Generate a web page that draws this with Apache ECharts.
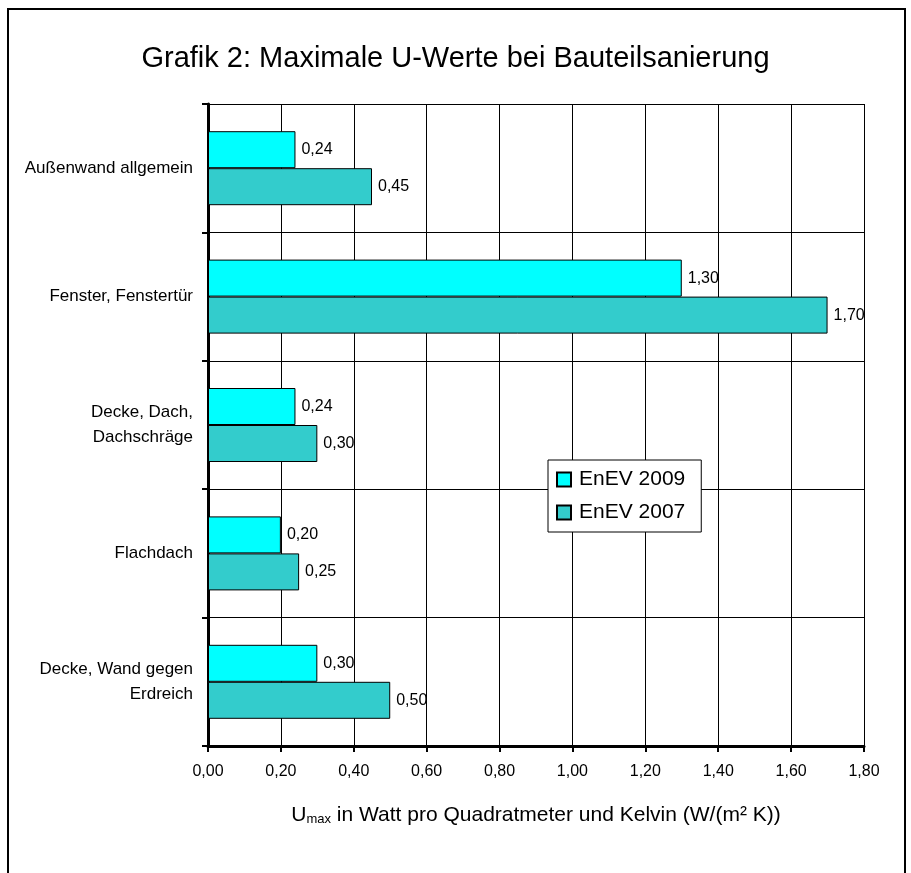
<!DOCTYPE html>
<html>
<head>
<meta charset="utf-8">
<script src="https://cdn.jsdelivr.net/npm/echarts@6/dist/echarts.min.js"></script>
<style>
html,body{margin:0;padding:0;background:#fff;}
#chart{width:911px;height:873px;}
</style>
</head>
<body>
<div id="chart"></div>
<script>
const titleText = 'Grafik 2: Maximale U-Werte bei Bauteilsanierung';
const categories = ['Außenwand allgemein', 'Fenster, Fenstertür', 'Decke, Dach,\nDachschräge', 'Flachdach', 'Decke, Wand gegen\nErdreich'];
const seriesNames = ['EnEV 2009', 'EnEV 2007'];
const values2009 = [0.24, 1.30, 0.24, 0.20, 0.30];
const values2007 = [0.45, 1.70, 0.30, 0.25, 0.50];
const xMin = 0, xMax = 1.8, xStep = 0.2;

const fmt = v => v.toFixed(2).replace('.', ',');
const FONT = '"Liberation Sans", Arial, sans-serif';

const chart = echarts.init(document.getElementById('chart'), null, {renderer: 'canvas'});
chart.setOption({
  animation: false,
  backgroundColor: '#fff',
  textStyle: {fontFamily: FONT, color: '#000'},
  title: {
    text: titleText,
    left: 'center',
    top: 39,
    textStyle: {fontFamily: FONT, fontSize: 29, fontWeight: 'normal', color: '#000'}
  },
  graphic: [{
    type: 'rect',
    shape: {x: 8, y: 9, width: 897, height: 900},
    style: {fill: 'none', stroke: '#000', lineWidth: 2},
    silent: true,
    z: -1
  }],
  legend: {
    orient: 'vertical',
    left: 548,
    top: 460,
    padding: [9, 16, 9, 8],
    itemGap: 12,
    itemWidth: 14,
    itemHeight: 14,
    backgroundColor: '#fff',
    borderColor: '#000',
    borderWidth: 1,
    icon: 'rect',
    textStyle: {fontFamily: FONT, fontSize: 21, color: '#000', padding: [0, 0, 0, 3]},
    data: seriesNames
  },
  grid: {left: 208, right: 47, top: 104, bottom: 127, containLabel: false},
  xAxis: {
    type: 'value',
    min: xMin,
    max: xMax,
    interval: xStep,
    name: '{u|U}{s|max}{n| in Watt pro Quadratmeter und Kelvin (W/(m² K))}',
    nameLocation: 'middle',
    nameGap: 58,
    nameTextStyle: {
      rich: {
        u: {fontFamily: FONT, fontSize: 21, color: '#000'},
        s: {fontFamily: FONT, fontSize: 13, color: '#000', verticalAlign: 'bottom', padding: [9, 0, 0, 0]},
        n: {fontFamily: FONT, fontSize: 21, color: '#000'}
      }
    },
    axisLine: {show: true, onZero: false, lineStyle: {color: '#000', width: 3}},
    axisTick: {show: true, length: 6, lineStyle: {color: '#000', width: 2}},
    axisLabel: {fontFamily: FONT, fontSize: 16, color: '#000', margin: 18, formatter: v => fmt(v)},
    splitLine: {show: true, lineStyle: {color: '#000', width: 1}}
  },
  yAxis: {
    type: 'category',
    data: categories,
    inverse: true,
    axisLine: {show: true, lineStyle: {color: '#000', width: 3}},
    axisTick: {show: true, length: 6, lineStyle: {color: '#000', width: 2}},
    axisLabel: {fontFamily: FONT, fontSize: 17, color: '#000', margin: 15, lineHeight: 25, align: 'right'},
    splitLine: {show: true, lineStyle: {color: '#000', width: 1}}
  },
  series: [
    {
      name: seriesNames[0],
      type: 'bar',
      data: values2009,
      barWidth: 37,
      barGap: '0%',
      itemStyle: {color: '#00FFFF', borderColor: '#000', borderWidth: 1},
      label: {show: true, position: 'right', distance: 6, fontFamily: FONT, fontSize: 16, color: '#000', formatter: p => fmt(p.value)}
    },
    {
      name: seriesNames[1],
      type: 'bar',
      data: values2007,
      barWidth: 37,
      barGap: '0%',
      itemStyle: {color: '#33CCCC', borderColor: '#000', borderWidth: 1},
      label: {show: true, position: 'right', distance: 6, fontFamily: FONT, fontSize: 16, color: '#000', formatter: p => fmt(p.value)}
    }
  ]
});
</script>
</body>
</html>
